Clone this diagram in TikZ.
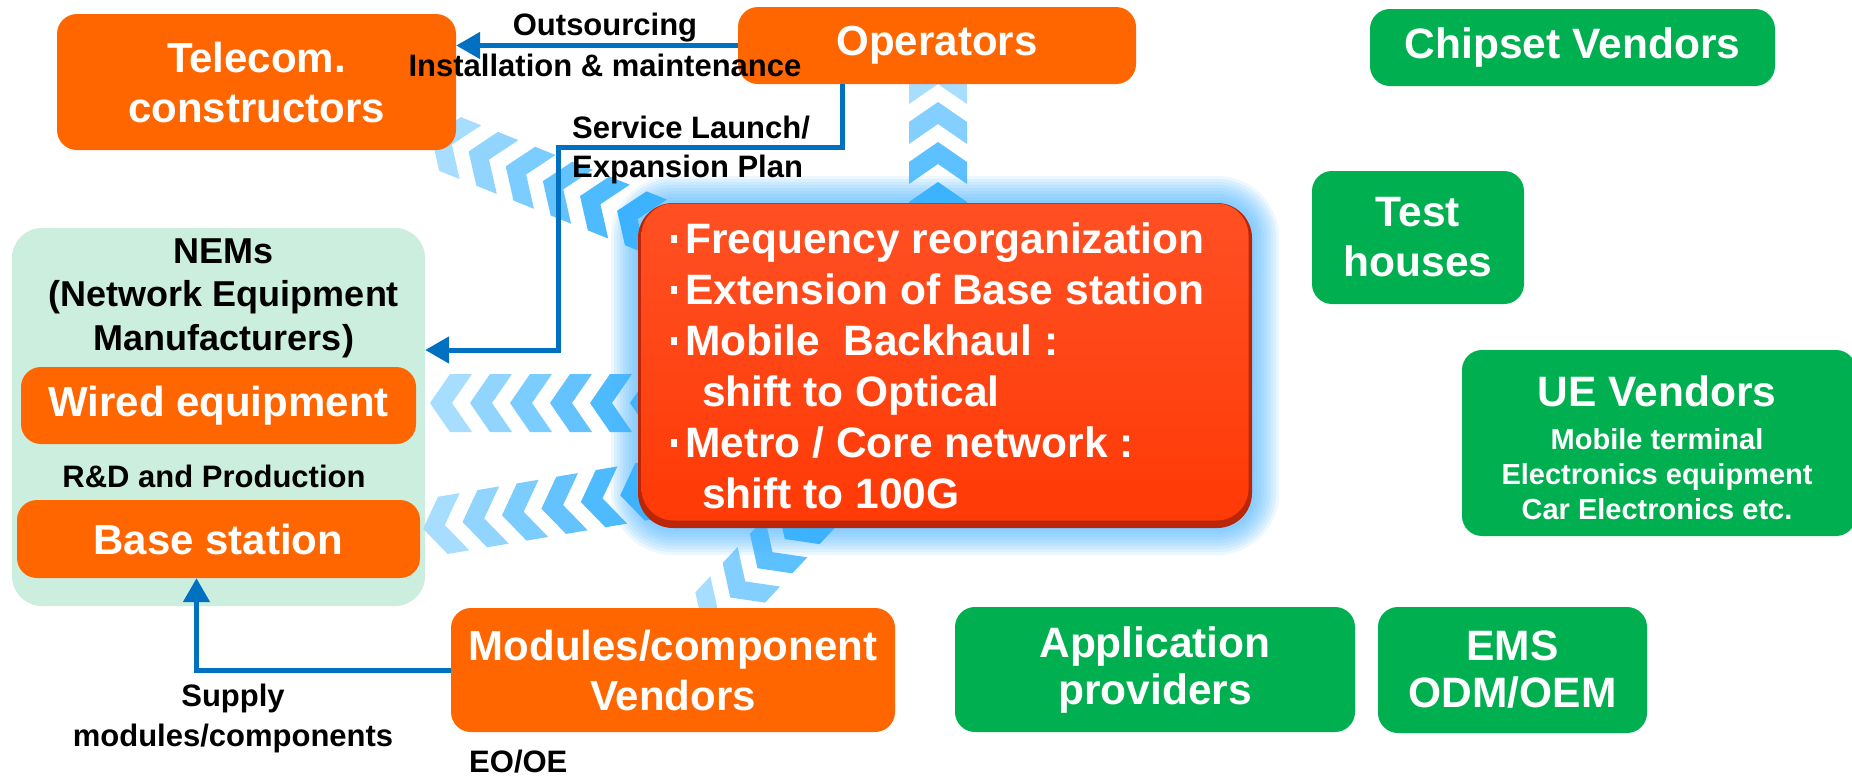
\documentclass[tikz,border=0pt]{standalone}
\usepackage{fontspec}
\setmainfont{Liberation Sans}
\usetikzlibrary{arrows.meta}
\definecolor{orng}{RGB}{255,102,0}
\definecolor{grn}{RGB}{0,176,80}
\definecolor{mint}{RGB}{204,238,222}
\definecolor{arrblue}{RGB}{0,112,192}
\definecolor{rednode}{RGB}{255,58,6}
\definecolor{redtop}{RGB}{255,80,35}
\definecolor{redrim}{RGB}{185,38,8}
\definecolor{glowc}{RGB}{70,180,255}
\definecolor{chevnear}{RGB}{56,178,255}
\definecolor{chevfar}{RGB}{195,232,255}

\newcommand\chevband[4]{%
 \begin{scope}[shift={#1},rotate=#2]
 \foreach \k in {1,...,#3}{%
   \pgfmathsetmacro\aa{#4+40*(\k-1)}%
   \pgfmathtruncatemacro\mx{100-80*(\k-1)/(#3-1)}%
   \fill[chevnear!\mx!chevfar] (\aa,0) -- ++(-20,29) -- ++(-22,0) -- ++(20,-29) -- ++(-20,-29) -- ++(22,0) -- cycle;
 }
 \end{scope}}
\newcommand\uesmall{\fontsize{29}{35}\selectfont}

\begin{document}
\begin{tikzpicture}[x=1pt,y=-1pt,
 obox/.style={fill=orng, rounded corners=20pt, text=white, align=center, inner sep=0pt, font=\fontsize{42}{50}\selectfont\bfseries},
 gbox/.style={fill=grn, rounded corners=20pt, text=white, align=center, inner sep=0pt, font=\fontsize{42.5}{47}\selectfont\bfseries},
 lbl/.style={text=black, inner sep=0pt, font=\fontsize{31}{40}\selectfont\bfseries},
 coretxt/.style={text=white, inner sep=0pt, anchor=base west, font=\fontsize{42.5}{51}\selectfont\bfseries},
 bluearr/.style={draw=arrblue, line width=5pt, -{Triangle[length=24pt,width=26pt]}},
]
\fill[white] (0,0) rectangle (1852,777);
\useasboundingbox (0,0) rectangle (1852,777);

% NEMs container
\node[fill=mint, rounded corners=30pt, minimum width=413pt, minimum height=378pt, inner sep=0pt] (nems) at (218.5,417) {};

% chevron bands
\chevband{(938,205)}{90}{4}{23}
\chevband{(645,222)}{158.2}{6}{30}
\chevband{(640,403)}{180}{6}{10}
\chevband{(640,492)}{189.6}{6}{20}
\chevband{(795,528)}{227}{4}{15}

% glow
\foreach \g in {3,6,...,27}{%
  \pgfmathsetmacro\rr{35+\g}%
  \fill[glowc, opacity=0.1, rounded corners=\rr pt] (638-\g,203-\g) rectangle (1252+\g,528+\g);
}

% central box
\node[fill=redrim, rounded corners=35pt, minimum width=614pt, minimum height=325pt, inner sep=0pt] (corerim) at (945,365.5) {};
\node[top color=redtop, middle color=rednode, bottom color=rednode, rounded corners=32pt, minimum width=607pt, minimum height=317pt, inner sep=0pt] (core) at (945,362) {};
\node[coretxt] (c1) at (671,253) {\rule[10pt]{6pt}{8pt}\hspace{8pt}Frequency reorganization};
\node[coretxt] (c2) at (671,304) {\rule[10pt]{6pt}{8pt}\hspace{8pt}Extension of Base station};
\node[coretxt] (c3) at (671,355) {\rule[10pt]{6pt}{8pt}\hspace{8pt}Mobile\ \ Backhaul :};
\node[coretxt] (c4) at (702,406) {shift to Optical};
\node[coretxt] (c5) at (671,457) {\rule[10pt]{6pt}{8pt}\hspace{8pt}Metro / Core network :};
\node[coretxt] (c6) at (702,508) {shift to 100G};

% orange boxes
\node[obox, minimum width=399pt, minimum height=136pt] (tel) at (256.5,82) {Telecom.\\constructors};
\node[obox, minimum width=398pt, minimum height=77pt] (ops) at (937,45.5) {Operators};
\node[obox, minimum width=395pt, minimum height=77pt] (wired) at (218.5,405.5) {Wired equipment};
\node[obox, minimum width=403pt, minimum height=78pt] (base) at (218.5,539) {Base station};
\node[obox, minimum width=444pt, minimum height=124pt] (mods) at (673,670) {Modules/component\\Vendors};

% green boxes
\node[gbox, minimum width=405pt, minimum height=77pt] (chip) at (1572.5,47.5) {Chipset Vendors};
\node[gbox, minimum width=212pt, minimum height=133pt, font=\fontsize{42.5}{50}\selectfont\bfseries] (test) at (1418,237.5) {Test\\houses};
\node[gbox, minimum width=394pt, minimum height=186pt] (ue) at (1659,443) {};
\node[text=white, align=center, inner sep=0pt, font=\fontsize{42.5}{35}\selectfont\bfseries] (uet) at (1657,448) {UE Vendors\\[8pt]\uesmall Mobile terminal\\\uesmall Electronics equipment\\\uesmall Car Electronics etc.};
\node[gbox, minimum width=400pt, minimum height=125pt] (app) at (1155,669.5) {Application\\providers};
\node[gbox, minimum width=269pt, minimum height=126pt] (ems) at (1512.5,670) {EMS\\ODM/OEM};

% NEMs texts
\node[inner sep=0pt, align=center, font=\fontsize{36}{43.5}\selectfont\bfseries] (nemt) at (224,298) {NEMs\\(Network Equipment\\Manufacturers)};
\node[lbl, anchor=base] (rd) at (214,487) {R\&D and Production};

% arrows
\coordinate (bend1) at (558,147);
\coordinate (bend2) at (558,350);
\draw[bluearr] (ops.west) -- (ops.west -| tel.east);
\draw[bluearr] ([xshift=-95pt]ops.south) |- (bend1) -- (bend2) -- (bend2 -| nems.east);
\draw[bluearr] (mods.west) -| ([xshift=-22pt]base.south);

% labels
\node[lbl, anchor=base] (outs) at (605,35) {Outsourcing};
\node[lbl, anchor=base] (inst) at (605,76) {Installation \& maintenance};
\node[lbl, anchor=base west] (svc) at (572,138) {Service Launch/};
\node[lbl, anchor=base west] (expn) at (572,177) {Expansion Plan};
\node[lbl, align=center] (sup) at (233,718) {Supply\\modules/components};
\node[lbl, anchor=base west] (eo) at (469,772) {EO/OE};
\end{tikzpicture}
\end{document}
